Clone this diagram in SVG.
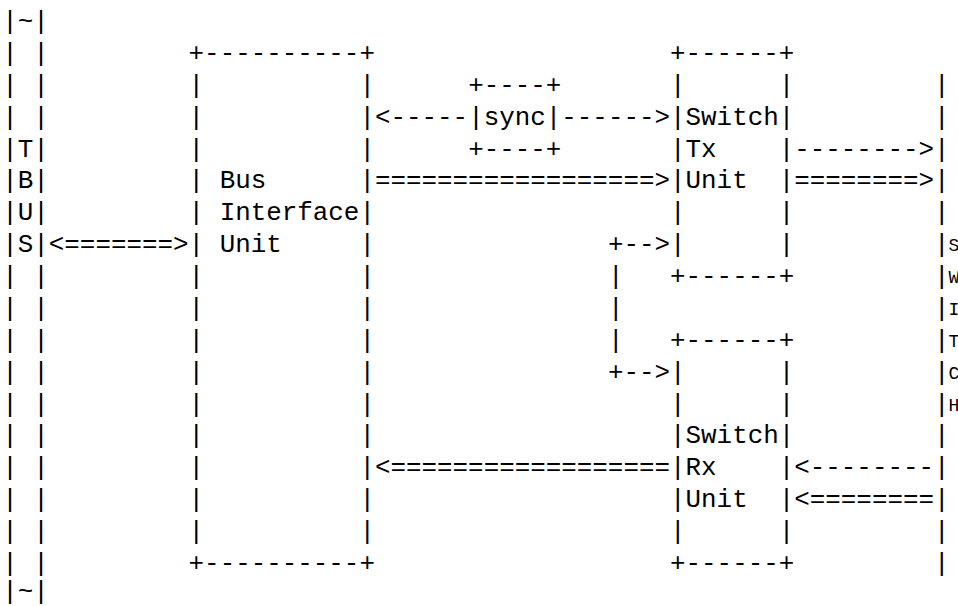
<svg xmlns="http://www.w3.org/2000/svg" width="958" height="606" viewBox="0 0 958 606" xml:space="preserve">
<style>
.t { font-family: "Liberation Mono", "DejaVu Sans Mono", monospace; font-size: 25.88px; fill: #000; white-space: pre; }
.s { font-size: 18px; }
</style>
<rect x="0" y="0" width="958" height="606" fill="#ffffff"/>

<g id="tbus">
<text class="t" x="2.23 2.23 2.23 2.23 2.23 2.23 2.23 2.23 2.23 2.23 2.23 2.23 2.23 2.23 2.23 2.23 2.23 2.23 2.23" y="29 60.9 92.75 124.6 156.5 188.4 220.25 252.1 284 315.9 347.75 379.6 411.5 443.4 475.25 507.1 539 570.9 599">|||||||||||||||||||</text>
<text class="t" x="33.29 33.29 33.29 33.29 33.29 33.29 33.29 33.29 33.29 33.29 33.29 33.29 33.29 33.29 33.29 33.29 33.29 33.29 33.29" y="29 60.9 92.75 124.6 156.5 188.4 220.25 252.1 284 315.9 347.75 379.6 411.5 443.4 475.25 507.1 539 570.9 599">|||||||||||||||||||</text>
<text class="t" x="17.76" y="29">~</text>
<text class="t" x="17.76" y="599">~</text>
<text class="t" x="17.76" y="156.5">T</text>
<text class="t" x="17.76" y="188.4">B</text>
<text class="t" x="17.76" y="220.25">U</text>
<text class="t" x="17.76" y="252.1">S</text>
</g>

<g id="bus-interface-unit">
<text class="t" x="188.59" y="60.9">+----------+</text>
<text class="t" x="188.59" y="92.75">|          |</text>
<text class="t" x="188.59" y="124.6">|          |</text>
<text class="t" x="188.59" y="156.5">|          |</text>
<text class="t" x="188.59" y="188.4">| Bus      |</text>
<text class="t" x="188.59" y="220.25">| Interface|</text>
<text class="t" x="188.59" y="252.1">| Unit     |</text>
<text class="t" x="188.59" y="284">|          |</text>
<text class="t" x="188.59" y="315.9">|          |</text>
<text class="t" x="188.59" y="347.75">|          |</text>
<text class="t" x="188.59" y="379.6">|          |</text>
<text class="t" x="188.59" y="411.5">|          |</text>
<text class="t" x="188.59" y="443.4">|          |</text>
<text class="t" x="188.59" y="475.25">|          |</text>
<text class="t" x="188.59" y="507.1">|          |</text>
<text class="t" x="188.59" y="539">|          |</text>
<text class="t" x="188.59" y="570.9">+----------+</text>
</g>

<g id="sync">
<text class="t" x="468.13" y="92.75">+----+</text>
<text class="t" x="468.13" y="124.6">|sync|</text>
<text class="t" x="468.13" y="156.5">+----+</text>
</g>

<g id="switch-tx-unit">
<text class="t" x="670.02" y="60.9">+------+</text>
<text class="t" x="670.02" y="92.75">|      |</text>
<text class="t" x="670.02" y="124.6">|Switch|</text>
<text class="t" x="670.02" y="156.5">|Tx    |</text>
<text class="t" x="670.02" y="188.4">|Unit  |</text>
<text class="t" x="670.02" y="220.25">|      |</text>
<text class="t" x="670.02" y="252.1">|      |</text>
<text class="t" x="670.02" y="284">+------+</text>
</g>

<g id="switch-rx-unit">
<text class="t" x="670.02" y="347.75">+------+</text>
<text class="t" x="670.02" y="379.6">|      |</text>
<text class="t" x="670.02" y="411.5">|      |</text>
<text class="t" x="670.02" y="443.4">|Switch|</text>
<text class="t" x="670.02" y="475.25">|Rx    |</text>
<text class="t" x="670.02" y="507.1">|Unit  |</text>
<text class="t" x="670.02" y="539">|      |</text>
<text class="t" x="670.02" y="570.9">+------+</text>
</g>

<g id="switch">
<text class="t" x="934.03 934.03 934.03 934.03 934.03 934.03 934.03 934.03 934.03 934.03 934.03 934.03 934.03 934.03 934.03 934.03" y="92.75 124.6 156.5 188.4 220.25 252.1 284 315.9 347.75 379.6 411.5 443.4 475.25 507.1 539 570.9">||||||||||||||||</text>
<text class="t s" x="948.5" y="251">S</text>
<text class="t s" x="948.5" y="283">W</text>
<text class="t s" x="948.5" y="315">I</text>
<text class="t s" x="948.5" y="347">T</text>
<text class="t s" x="948.5" y="379">C</text>
<text class="t s" x="948.5" y="411">H</text>
</g>

<g id="connectors">
<text class="t" x="374.95" y="124.6">&lt;-----</text>
<text class="t" x="561.31" y="124.6">------&gt;</text>
<text class="t" x="794.26" y="156.5">--------&gt;</text>
<text class="t" x="374.95" y="188.4">==================&gt;</text>
<text class="t" x="794.26" y="188.4">========&gt;</text>
<text class="t" x="48.82" y="252.1">&lt;=======&gt;</text>
<text class="t" x="607.9" y="252.1">+--&gt;</text>
<text class="t" x="607.9 607.9 607.9" y="284 315.9 347.75">|||</text>
<text class="t" x="607.9" y="379.6">+--&gt;</text>
<text class="t" x="374.95" y="475.25">&lt;==================</text>
<text class="t" x="794.26" y="475.25">&lt;--------</text>
<text class="t" x="794.26" y="507.1">&lt;========</text>
</g>
</svg>
